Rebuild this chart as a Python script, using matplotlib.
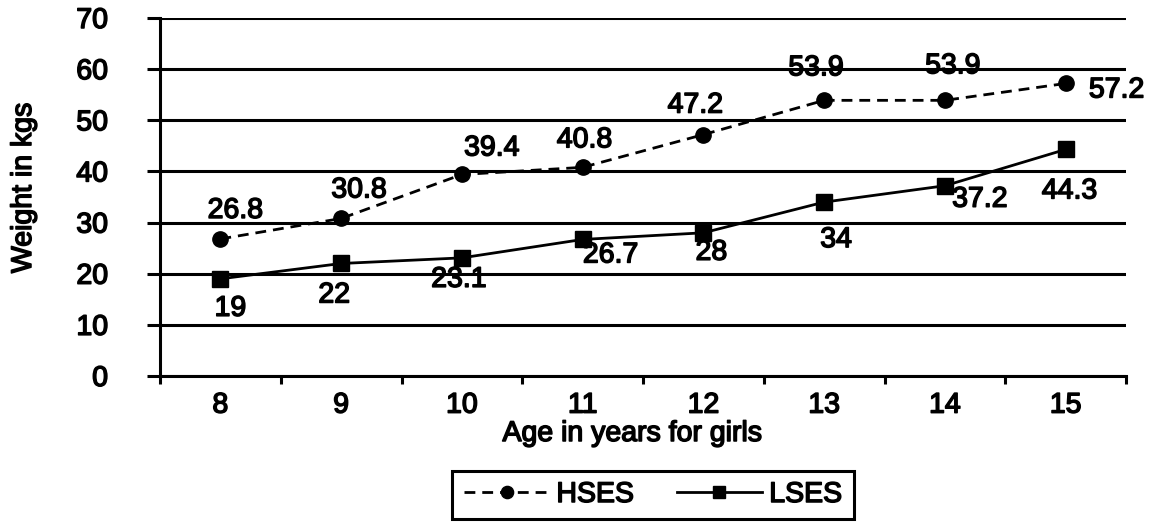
import matplotlib.pyplot as plt
import matplotlib.patheffects as pe
from matplotlib.ticker import FixedLocator, NullFormatter

# ===== Data =====
ages = [8, 9, 10, 11, 12, 13, 14, 15]
hses = [26.8, 30.8, 39.4, 40.8, 47.2, 53.9, 53.9, 57.2]
lses = [19, 22, 23.1, 26.7, 28, 34, 37.2, 44.3]

# value-label offsets in pixels (dx, dy) from each marker to the label baseline
HSES_OFFSETS = [(15, 21), (18, 21), (30, 19), (2, 20), (-8, 22), (-8, 25), (8, 27), (51, -14)]
LSES_OFFSETS = [(10, -37), (-7, -39), (-3, -29), (28, -23), (8, -27), (12, -45), (35, -21), (4, -49)]

FONT_SIZE = 20.5
HEAVY = [pe.withStroke(linewidth=1.1, foreground="black")]

plt.rcParams["font.family"] = ["Liberation Sans", "DejaVu Sans"]
plt.rcParams["font.size"] = FONT_SIZE

W, H = 1151, 522
fig = plt.figure(figsize=(W / 100, H / 100), dpi=100)
# plot area: x 160..1126 px, y 18..376 px
ax = fig.add_axes([160 / W, 1 - 376 / H, 966 / W, 358 / H])

x = list(range(len(ages)))

ax.plot(x, hses, color="black", linewidth=2, linestyle=(0, (3.9, 2.5)),
        marker="o", markersize=11, label="HSES", zorder=3)
ax.plot(x, lses, color="black", linewidth=2, linestyle="-",
        marker="s", markersize=11, label="LSES", zorder=3)

for xi, v, (dx, dy) in zip(x, hses, HSES_OFFSETS):
    ax.annotate(f"{v:g}", (xi, v), xytext=(dx, dy), textcoords="offset pixels",
                ha="center", va="baseline", fontsize=FONT_SIZE, path_effects=HEAVY)
for xi, v, (dx, dy) in zip(x, lses, LSES_OFFSETS):
    ax.annotate(f"{v:g}", (xi, v), xytext=(dx, dy), textcoords="offset pixels",
                ha="center", va="baseline", fontsize=FONT_SIZE, path_effects=HEAVY)

ax.set_xlim(-0.5, len(ages) - 0.5)
ax.set_ylim(0, 70)
ax.set_yticks(range(0, 71, 10))
ax.yaxis.grid(True, color="black", linewidth=2.2)
ax.set_axisbelow(True)

ax.set_xticks(x)
ax.set_xticklabels([str(a) for a in ages])
ax.xaxis.set_minor_locator(FixedLocator([i - 0.5 for i in range(len(ages) + 1)]))
ax.xaxis.set_minor_formatter(NullFormatter())
ax.tick_params(axis="x", which="major", length=0, pad=12, labelsize=FONT_SIZE)
ax.tick_params(axis="x", which="minor", length=6, width=2.2, direction="out")
ax.tick_params(axis="y", length=9.4, width=2.2, pad=28, labelsize=FONT_SIZE)
for lbl in ax.get_xticklabels() + ax.get_yticklabels():
    lbl.set_path_effects(HEAVY)

for side in ["top", "right"]:
    ax.spines[side].set_visible(False)
ax.spines["left"].set_linewidth(2.2)
ax.spines["bottom"].set_linewidth(2.2)

fig.text(632 / W, 1 - 441 / H, "Age in years for girls", ha="center", va="baseline",
         fontsize=FONT_SIZE, path_effects=HEAVY)
fig.text(24 / W, 1 - 188 / H, "Weight in kgs", ha="center", va="center", rotation=90,
         fontsize=FONT_SIZE, path_effects=HEAVY)

leg = fig.legend(loc="center", bbox_to_anchor=(653 / W, 1 - 495 / H), ncol=2,
                 frameon=True, fancybox=False, fontsize=FONT_SIZE, handlelength=3.0,
                 handletextpad=0.25, columnspacing=1.5, borderpad=0.4,
                 markerscale=0.8, framealpha=1)
leg.get_frame().set_edgecolor("black")
leg.get_frame().set_linewidth(2.2)
for t in leg.get_texts():
    t.set_path_effects(HEAVY)

fig.savefig("out.png", dpi=100)
